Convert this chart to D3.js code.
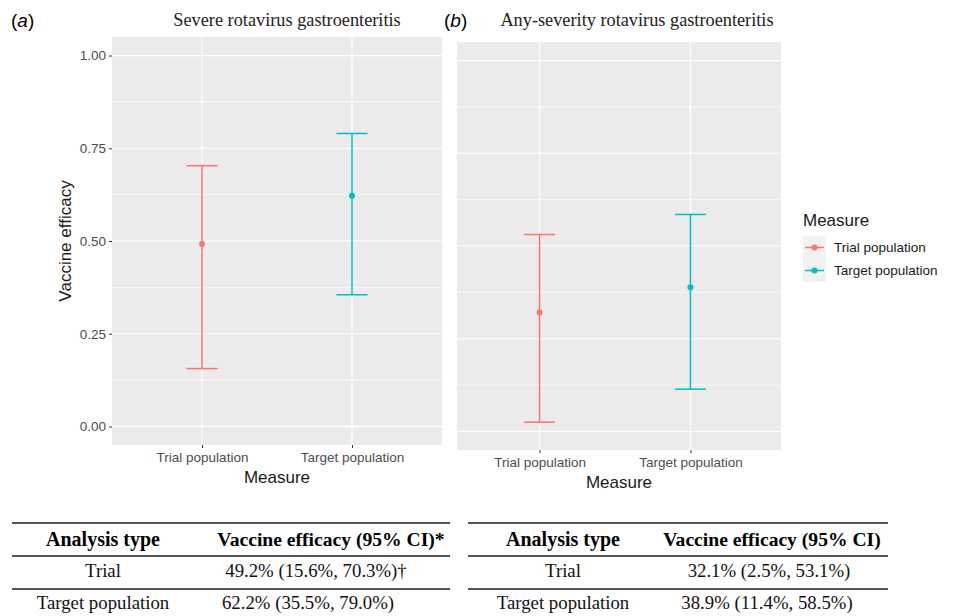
<!DOCTYPE html>
<html>
<head>
<meta charset="utf-8">
<script src="https://cdn.jsdelivr.net/npm/d3@7"></script>
<style>
  body { margin: 0; background: #fff; }
  svg { display: block; }
</style>
</head>
<body>
<div class="vis"></div>
<script>
// values
const measures = ["Trial population", "Target population"];
const colors = ["#F8766D", "#00BFC4"];

const severeEst = [0.492, 0.622];
const severeLo = [0.156, 0.355];
const severeHi = [0.703, 0.790];

const anyEst = [0.321, 0.389];
const anyLo = [0.025, 0.114];
const anyHi = [0.531, 0.585];

const yTicks = [0, 0.25, 0.5, 0.75, 1];
const yMinor = [0.125, 0.375, 0.625, 0.875];

const tableHeader = ["Analysis type", "Vaccine efficacy (95% CI)"];
const severeRows = [["Trial", "49.2% (15.6%, 70.3%)\u2020"], ["Target population", "62.2% (35.5%, 79.0%)"]];
const anyRows = [["Trial", "32.1% (2.5%, 53.1%)"], ["Target population", "38.9% (11.4%, 58.5%)"]];

const W = 954, H = 616;
const sans = "'Liberation Sans', Arial, sans-serif";
const serif = "'Liberation Serif', 'Times New Roman', serif";

const svg = d3.select(".vis").append("svg")
    .attr("width", W)
    .attr("height", H);

function panel(opts) {
    const g = svg.append("g");
    const data = measures.map((m, i) => ({m: m, est: opts.est[i], lo: opts.lo[i], hi: opts.hi[i], c: colors[i]}));

    const x = d3.scalePoint()
        .domain(measures)
        .range(opts.xr)
        .padding(0.6);
    const y = d3.scaleLinear()
        .domain([-0.05, 1.05])
        .range([opts.bottom, opts.top]);

    g.append("rect")
        .attr("x", opts.left)
        .attr("y", opts.top)
        .attr("width", opts.right - opts.left)
        .attr("height", opts.bottom - opts.top)
        .attr("fill", "#EBEBEB");

    // grid
    g.selectAll(".minor").data(yMinor).enter().append("line")
        .attr("x1", opts.left).attr("x2", opts.right)
        .attr("y1", d => y(d)).attr("y2", d => y(d))
        .attr("stroke", "#fff").attr("stroke-width", 0.6);
    g.selectAll(".major").data(yTicks).enter().append("line")
        .attr("x1", opts.left).attr("x2", opts.right)
        .attr("y1", d => y(d)).attr("y2", d => y(d))
        .attr("stroke", "#fff").attr("stroke-width", 1.2);
    g.selectAll(".vgrid").data(measures).enter().append("line")
        .attr("x1", d => x(d)).attr("x2", d => x(d))
        .attr("y1", opts.top).attr("y2", opts.bottom)
        .attr("stroke", "#fff").attr("stroke-width", 1.2);

    // x axis
    const xa = g.append("g")
        .attr("transform", "translate(0," + opts.bottom + ")")
        .call(d3.axisBottom(x).tickSize(3).tickPadding(4));
    xa.select(".domain").remove();
    xa.selectAll("line").attr("stroke", "#333");
    xa.selectAll("text")
        .style("font-family", sans)
        .style("font-size", "13.5px")
        .attr("fill", "#4D4D4D");

    g.append("text")
        .attr("x", (opts.left + opts.right) / 2)
        .attr("y", opts.bottom + 38)
        .attr("text-anchor", "middle")
        .style("font-family", sans)
        .style("font-size", "17px")
        .attr("fill", "#1A1A1A")
        .text("Measure");

    if (opts.yAxis) {
        const ya = g.append("g")
            .attr("transform", "translate(" + opts.left + ",0)")
            .call(d3.axisLeft(y).tickValues(yTicks).tickFormat(d3.format(".2f")).tickSize(3).tickPadding(3));
        ya.select(".domain").remove();
        ya.selectAll("line").attr("stroke", "#333");
        ya.selectAll("text")
            .style("font-family", sans)
            .style("font-size", "13.5px")
            .attr("fill", "#4D4D4D");

        g.append("text")
            .attr("transform", "translate(" + (opts.left - 47) + "," + ((opts.top + opts.bottom) / 2) + ") rotate(-90)")
            .attr("text-anchor", "middle")
            .attr("dominant-baseline", "central")
            .style("font-family", sans)
            .style("font-size", "17px")
            .attr("fill", "#1A1A1A")
            .text("Vaccine efficacy");
    }

    // error bars
    const bars = g.selectAll(".bar").data(data).enter().append("g");
    bars.append("line")
        .attr("x1", d => x(d.m)).attr("x2", d => x(d.m))
        .attr("y1", d => y(d.lo)).attr("y2", d => y(d.hi))
        .attr("stroke", d => d.c).attr("stroke-width", 1.5);
    bars.append("line")
        .attr("x1", d => x(d.m) - 15.5).attr("x2", d => x(d.m) + 15.5)
        .attr("y1", d => y(d.lo)).attr("y2", d => y(d.lo))
        .attr("stroke", d => d.c).attr("stroke-width", 1.5);
    bars.append("line")
        .attr("x1", d => x(d.m) - 15.5).attr("x2", d => x(d.m) + 15.5)
        .attr("y1", d => y(d.hi)).attr("y2", d => y(d.hi))
        .attr("stroke", d => d.c).attr("stroke-width", 1.5);
    bars.append("circle")
        .attr("cx", d => x(d.m)).attr("cy", d => y(d.est))
        .attr("r", 3)
        .attr("fill", d => d.c);

    // titles
    svg.append("text")
        .attr("x", opts.tagX).attr("y", 27)
        .style("font-family", sans)
        .style("font-size", "19px")
        .attr("fill", "#000")
        .html("(<tspan font-style='italic'>" + opts.tag + "</tspan>)");
    svg.append("text")
        .attr("x", opts.titleX).attr("y", 26)
        .attr("text-anchor", "middle")
        .style("font-family", serif)
        .style("font-size", "18.3px")
        .attr("fill", "#222")
        .text(opts.title);
}

panel({left: 112, right: 442, top: 37, bottom: 445, xr: [112, 442],
       est: severeEst, lo: severeLo, hi: severeHi, yAxis: true,
       tag: "a", tagX: 11, title: "Severe rotavirus gastroenteritis", titleX: 287});
panel({left: 457, right: 781, top: 42, bottom: 450, xr: [449, 781],
       est: anyEst, lo: anyLo, hi: anyHi, yAxis: false,
       tag: "b", tagX: 444, title: "Any-severity rotavirus gastroenteritis", titleX: 637});

// legend
const lg = svg.append("g").attr("transform", "translate(803,0)");
lg.append("text")
    .attr("x", 0).attr("y", 226)
    .style("font-family", sans)
    .style("font-size", "17px")
    .attr("fill", "#1A1A1A")
    .text("Measure");
const keys = lg.selectAll(".key").data(measures).enter().append("g")
    .attr("transform", (d, i) => "translate(0," + (236 + i * 23) + ")");
keys.append("rect")
    .attr("width", 23).attr("height", 23)
    .attr("fill", "#F2F2F2");
keys.append("line")
    .attr("x1", 2).attr("x2", 21).attr("y1", 11.5).attr("y2", 11.5)
    .attr("stroke", (d, i) => colors[i]).attr("stroke-width", 1.5);
keys.append("circle")
    .attr("cx", 11.5).attr("cy", 11.5).attr("r", 3)
    .attr("fill", (d, i) => colors[i]);
keys.append("text")
    .attr("x", 31).attr("y", 11.5)
    .attr("dominant-baseline", "central")
    .style("font-family", sans)
    .style("font-size", "13.5px")
    .attr("fill", "#1A1A1A")
    .text(d => d);

// tables under the panels
function table(x0, x1, c1, c2, head2, rows, rowX2) {
    const t = svg.append("g");
    [523, 556, 589].forEach(yy => {
        t.append("line")
            .attr("x1", x0).attr("x2", x1)
            .attr("y1", yy).attr("y2", yy)
            .attr("stroke", "#555").attr("stroke-width", 2);
    });
    t.append("text").attr("x", c1).attr("y", 546)
        .attr("text-anchor", "middle")
        .style("font-family", serif).style("font-size", "20px").style("font-weight", "bold")
        .text(tableHeader[0]);
    t.append("text").attr("x", c2).attr("y", 546)
        .attr("text-anchor", "middle")
        .style("font-family", serif).style("font-size", "19.6px").style("font-weight", "bold")
        .text(head2);
    t.selectAll(".r1").data(rows).enter().append("text")
        .attr("x", c1).attr("y", (d, i) => 577 + i * 32)
        .attr("text-anchor", "middle")
        .style("font-family", serif).style("font-size", "18.8px")
        .attr("fill", "#111")
        .text(d => d[0]);
    t.selectAll(".r2").data(rows).enter().append("text")
        .attr("x", (d, i) => rowX2[i]).attr("y", (d, i) => 577 + i * 32)
        .attr("text-anchor", "middle")
        .style("font-family", serif).style("font-size", "18.8px")
        .attr("fill", "#111")
        .text(d => d[1]);
}

table(12, 450, 103, 331, tableHeader[1] + "*", severeRows, [316, 308]);
table(468, 888, 563, 772, tableHeader[1], anyRows, [769, 767]);
</script>
</body>
</html>
